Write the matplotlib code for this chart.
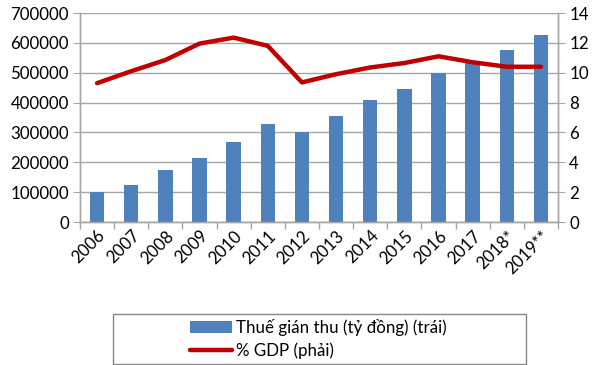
import matplotlib
matplotlib.use("Agg")
import matplotlib.pyplot as plt
import numpy as np
from matplotlib.ticker import FixedLocator
from matplotlib.patches import Rectangle

plt.rcParams['font.family'] = ['Lato', 'DejaVu Sans']

years = ["2006", "2007", "2008", "2009", "2010", "2011", "2012", "2013",
         "2014", "2015", "2016", "2017", "2018*", "2019**"]
tax_revenue = [99000, 125000, 174000, 215000, 267000, 328000, 302000, 354000,
               407000, 445000, 500000, 532000, 577000, 627000]
pct_gdp = [9.3, 10.1, 10.85, 11.95, 12.35, 11.8, 9.35, 9.9,
           10.35, 10.65, 11.1, 10.7, 10.4, 10.4]

bar_color = "#4F81BD"
line_color = "#C00000"
grid_color = "#A6A6A6"
fs = 12.2

fig = plt.figure(figsize=(5.95, 3.65), dpi=100)
ax = fig.add_axes([80 / 595, 1 - 222 / 365, (558 - 80) / 595, (222 - 13) / 365])
ax2 = ax.twinx()

x = np.arange(len(years))
ax.bar(x, tax_revenue, width=0.42, color=bar_color, zorder=3,
       label="Thuế gián thu (tỷ đồng) (trái)")
ax2.plot(x, pct_gdp, color=line_color, lw=3.2, solid_capstyle="round",
         solid_joinstyle="round", label="% GDP (phải)")

ax.set_xlim(-0.5, len(years) - 0.5)
ax.set_ylim(0, 700000)
ax2.set_ylim(0, 14)
ax.set_yticks(np.arange(0, 700001, 100000))
ax2.set_yticks(np.arange(0, 15, 2))
ax.yaxis.grid(True, color=grid_color, lw=1, zorder=0)
ax.set_axisbelow(True)

ax.set_xticks(x)
ax.set_xticklabels(years, rotation=45, ha="right", va="top",
                   rotation_mode="anchor", fontsize=fs)
ax.tick_params(axis="x", length=0, pad=4)
ax.xaxis.set_minor_locator(FixedLocator(np.arange(-0.5, len(years), 1)))
ax.tick_params(axis="x", which="minor", length=5, color=grid_color, width=1)

ax.tick_params(axis="y", labelsize=fs, length=5, color=grid_color, pad=3)
ax2.tick_params(axis="y", labelsize=fs, length=5, color=grid_color, pad=3)

for a in (ax, ax2):
    for side in ("left", "right", "bottom"):
        a.spines[side].set_color(grid_color)
        a.spines[side].set_linewidth(1)
    a.spines["top"].set_visible(False)

# Legend box frame
fig.patches.append(Rectangle((113 / 595, 1 / 365), (526 - 113) / 595, 50 / 365,
                             transform=fig.transFigure, fill=False,
                             edgecolor="#888888", lw=1))

h1, l1 = ax.get_legend_handles_labels()
h2, l2 = ax2.get_legend_handles_labels()
leg = fig.legend(h1 + h2, l1 + l2, loc="center left",
                 bbox_to_anchor=(190 / 595, 26 / 365),
                 ncol=1, fontsize=fs, frameon=False, handlelength=2.5,
                 handletextpad=0.2, borderpad=0, labelspacing=0.35,
                 borderaxespad=0)

fig.savefig("out.png", dpi=100)
